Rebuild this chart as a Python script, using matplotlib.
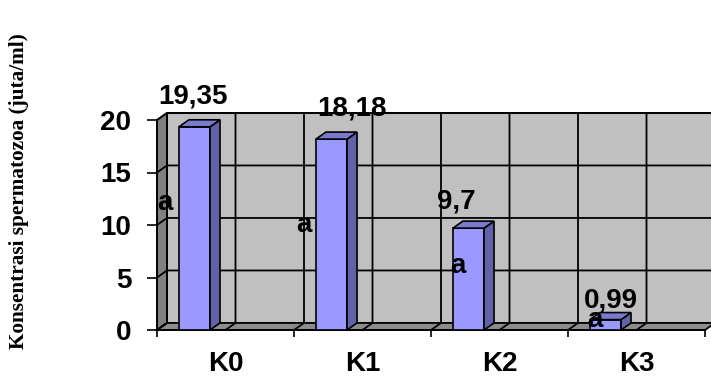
import matplotlib
matplotlib.use('Agg')
import matplotlib.pyplot as plt
from matplotlib.patches import Polygon, Rectangle

# data
categories = ['K0', 'K1', 'K2', 'K3']
values = [19.35, 18.18, 9.7, 0.99]
letters = ['a', 'a', 'a', 'a']
yticks = [0, 5, 10, 15, 20]

# label layout (offsets relative to bar, in data units)
value_offsets = [(-0.01, 2.85), (0.15, 2.9), (-0.09, 2.5), (0.04, 1.8)]
letter_pos = [(0.06, 12.1), (1.07, 10.0), (2.2, 6.1), (3.2, 0.95)]

DX, DY = 0.073, 0.67          # 3d depth offset
BAR_L, BAR_W = 0.16, 0.227    # bar position inside category
FRONT, SIDE, TOP = '#9999ff', '#6262a8', '#7a7acc'
WALL, SIDEWALL, FLOOR = '#c0c0c0', '#808080', '#8c8c8c'
FS = 20

plt.rcParams['font.family'] = ['Liberation Sans', 'DejaVu Sans']
plt.rcParams['font.weight'] = 'bold'

fig = plt.figure(figsize=(7.11, 3.76), dpi=100)
W, H = 711, 376
x0, y0 = 157, 330
cat_px, unit_px = 137.0, 10.5
ymax = 20.75
xmax = (W - x0) / cat_px
ax = fig.add_axes([x0 / W, (H - y0) / H, (W - x0) / W, ymax * unit_px / H])
ax.set_xlim(0, xmax)
ax.set_ylim(0, ymax)

n = len(categories)
top = yticks[-1]

# walls
ax.add_patch(Polygon([(0, 0), (DX, DY), (DX, top + DY), (0, top)],
                     facecolor=SIDEWALL, edgecolor='black', lw=1.2, clip_on=False, zorder=1))
ax.add_patch(Rectangle((DX, DY), n, top, facecolor=WALL, edgecolor='black',
                       lw=1.2, clip_on=False, zorder=1))
ax.add_patch(Polygon([(0, 0), (n, 0), (n + DX, DY), (DX, DY)],
                     facecolor=FLOOR, edgecolor='none', clip_on=False, zorder=1))

# gridlines
for v in yticks:
    ax.plot([0, DX, n + DX], [v, v + DY, v + DY], color='black', lw=1.3,
            clip_on=False, zorder=2)
for k in range(2 * n + 1):
    xg = k * 0.5
    ax.plot([xg, xg + DX, xg + DX], [0, DY, top + DY], color='black', lw=1.3,
            clip_on=False, zorder=2)
ax.plot([0, n], [0, 0], color='black', lw=1.3, clip_on=False, zorder=2)

# bars
for i, v in enumerate(values):
    xl = i + BAR_L
    xr = xl + BAR_W
    ax.add_patch(Rectangle((xl, 0), BAR_W, v, facecolor=FRONT, edgecolor='black',
                           lw=1.2, zorder=5, clip_on=False))
    ax.add_patch(Polygon([(xr, 0), (xr + DX, DY), (xr + DX, v + DY), (xr, v)],
                         facecolor=SIDE, edgecolor='black', lw=1.2, zorder=5, clip_on=False))
    ax.add_patch(Polygon([(xl, v), (xr, v), (xr + DX, v + DY), (xl + DX, v + DY)],
                         facecolor=TOP, edgecolor='black', lw=1.2, zorder=5, clip_on=False))
    ox, oy = value_offsets[i]
    ax.text(xl + BAR_W / 2 + ox, v + oy, str(v).replace('.', ','), ha='center',
            va='center', fontsize=FS, fontweight='bold', zorder=7, clip_on=False)
    lx, ly = letter_pos[i]
    ax.text(lx, ly, letters[i], ha='center', va='center', fontsize=FS,
            fontweight='bold', zorder=7, clip_on=False)

# axes
for s in ['top', 'right']:
    ax.spines[s].set_visible(False)
ax.spines['left'].set_bounds(0, top)
ax.spines['bottom'].set_bounds(0, n)
ax.spines['left'].set_linewidth(1.2)
ax.spines['bottom'].set_linewidth(1.2)
ax.set_yticks(yticks)
ax.set_yticklabels([str(t) for t in yticks], fontsize=FS, fontweight='bold')
ax.tick_params(axis='y', length=7.5, width=1.2, pad=11)
ax.set_xticks(range(n + 1))
ax.set_xticklabels([])
ax.tick_params(axis='x', which='major', length=5, width=1.2)
ax.set_xticks([i + 0.5 for i in range(n)], minor=True)
ax.set_xticklabels(categories, minor=True, fontsize=FS, fontweight='bold')
ax.tick_params(axis='x', which='minor', length=0, pad=15)

fig.text(19 / W, 1 - 191 / H, 'Konsentrasi spermatozoa (juta/ml)', rotation=90,
         ha='center', va='center', fontsize=15.3, fontweight='bold',
         family=['Liberation Serif', 'DejaVu Serif'])

fig.savefig('out.png', dpi=100, facecolor='white')
